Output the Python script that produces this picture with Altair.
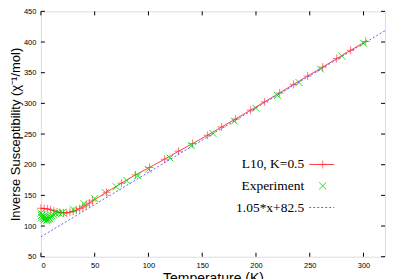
import altair as alt
import pandas as pd

# ---- data ----
red_T = [0, 3, 6, 9, 12, 15, 18, 21, 24, 27, 30, 33, 36, 39, 42, 45,
         48, 61, 75, 88, 101, 115, 128, 141, 155, 168, 181, 195, 208, 222,
         235, 248, 262, 275, 288, 302]
red_V = [129, 128.5, 128, 126.5, 125, 123, 122, 121.5, 121.5, 122.5, 124, 126, 128.5, 131, 134, 137.5,
         141, 155, 170, 183.5, 195.5, 209, 222, 234.5, 248, 261.5, 274.5, 289, 302.5, 317,
         331, 344.5, 359, 373, 386.5, 401]

exp_T = [0, 0.5, 1, 1.5, 2, 2.5, 3, 3.5, 4, 5, 5.5, 6, 7, 7.5, 8, 9, 10, 12, 14, 17, 20,
         30, 40, 50, 60, 70, 80, 90, 100, 120, 140, 160, 180, 200, 220, 240, 260, 280, 300]
exp_V = [121, 117, 114, 119, 112, 116, 110, 114, 112, 109, 113, 110, 111, 114, 112, 115, 117, 118, 120, 121, 122,
         127, 136.5, 145, 154.5, 164, 174, 182, 192.5, 211, 231, 251, 271, 292, 313, 334, 356, 377, 398]

fit_T = [0, 320]
fit_V = [82.5, 418.5]

x_ticks = [0, 50, 100, 150, 200, 250, 300]
y_ticks = [50, 100, 150, 200, 250, 300, 350, 400, 450]

labels = ["L10, K=0.5", "Experiment", "1.05*x+82.5"]

RED = "#ff2020"
GREEN = "#00e000"
BLUE = "#6060ff"
W, H = 345, 246

red_df = pd.DataFrame({"T": red_T, "V": red_V})
exp_df = pd.DataFrame({"T": exp_T, "V": exp_V})
fit_df = pd.DataFrame({"T": fit_T, "V": fit_V})
xt_df = pd.DataFrame({"T": x_ticks})
yt_df = pd.DataFrame({"V": y_ticks})

xs = alt.Scale(domain=[0, 320], nice=False, zero=False)
ys = alt.Scale(domain=[50, 450], nice=False, zero=False)

xaxis = alt.Axis(values=x_ticks, title="Temperature (K)", grid=False, domain=False, ticks=False,
                 tickSize=0, labelFontSize=7.5, labelFont="Liberation Sans", labelColor="black",
                 labelPadding=5, titleFont="Liberation Sans", titleFontSize=14, titleFontWeight="normal",
                 titleColor="black", titlePadding=2)
yaxis = alt.Axis(values=y_ticks, title="Inverse Susceptibility (χ⁻¹/mol)", grid=False, domain=False,
                 ticks=False, tickSize=0, labelFontSize=7.5, labelFont="Liberation Sans", labelColor="black",
                 labelPadding=5, titleFont="Liberation Sans", titleFontSize=13, titleFontWeight="normal",
                 titleColor="black", titlePadding=1)

X = alt.X("T:Q", scale=xs, axis=xaxis)
Y = alt.Y("V:Q", scale=ys, axis=yaxis)

PLUS = "M-1,0L1,0M0,-1L0,1"
CROSS = "M-1,-1L1,1M-1,1L1,-1"

red_line = alt.Chart(red_df).mark_line(color=RED, strokeWidth=1, opacity=0.85).encode(x=X, y=Y)
red_pts = alt.Chart(red_df).mark_point(shape=PLUS, size=64, filled=False, color=RED,
                                       strokeWidth=1, opacity=0.6).encode(x=X, y=Y)
exp_pts = alt.Chart(exp_df).mark_point(shape=CROSS, size=49, filled=False, color=GREEN,
                                       strokeWidth=1, opacity=0.85).encode(x=X, y=Y)
fit_line = alt.Chart(fit_df).mark_line(color=BLUE, strokeWidth=1, strokeDash=[2, 2]).encode(x=X, y=Y)

tick_b = alt.Chart(xt_df).mark_rule(color="black").encode(x=X, y=alt.value(H), y2=alt.value(H - 4))
tick_t = alt.Chart(xt_df).mark_rule(color="black").encode(x=X, y=alt.value(0), y2=alt.value(4))
tick_l = alt.Chart(yt_df).mark_rule(color="black").encode(y=Y, x=alt.value(0), x2=alt.value(4))
tick_r = alt.Chart(yt_df).mark_rule(color="black").encode(y=Y, x=alt.value(W), x2=alt.value(W - 4))

# legend (inside the plot, gnuplot style: text right-aligned, sample on the right)
LX = 264
LY = [153.5, 175, 196.7]
SX0, SX1, SXC = 269, 294, 282.5


def legend_text(i):
    return alt.Chart(pd.DataFrame({"label": [labels[i]]})).mark_text(
        align="right", baseline="middle", font="Liberation Serif", fontSize=13.5, color="black"
    ).encode(x=alt.value(LX), y=alt.value(LY[i]), text="label:N")


leg_red_line = alt.Chart(red_df.head(1)).mark_rule(color=RED, strokeWidth=1, opacity=0.85).encode(
    x=alt.value(SX0), x2=alt.value(SX1), y=alt.value(LY[0]))
leg_red_pt = alt.Chart(red_df.head(1)).mark_point(shape=PLUS, size=64, filled=False, color=RED,
                                                  strokeWidth=1, opacity=0.6).encode(
    x=alt.value(SXC), y=alt.value(LY[0]))
leg_exp_pt = alt.Chart(exp_df.head(1)).mark_point(shape=CROSS, size=49, filled=False, color=GREEN,
                                                  strokeWidth=1, opacity=0.85).encode(
    x=alt.value(SXC), y=alt.value(LY[1]))
leg_fit = alt.Chart(fit_df.head(1)).mark_rule(color=BLUE, strokeWidth=1, strokeDash=[2, 2]).encode(
    x=alt.value(SX0), x2=alt.value(SX1), y=alt.value(LY[2]))

chart = alt.layer(
    red_line, red_pts, exp_pts, fit_line,
    tick_b, tick_t, tick_l, tick_r,
    legend_text(0), legend_text(1), legend_text(2),
    leg_red_line, leg_red_pt, leg_exp_pt, leg_fit,
).properties(
    width=W, height=H,
    autosize=alt.AutoSizeParams(type="none"),
    padding={"left": 33, "top": 3, "right": 6, "bottom": 30},
).configure_view(stroke="black", strokeWidth=1).configure(background="white")

chart.save("out.html", embed_options={"renderer": "svg", "actions": False})
